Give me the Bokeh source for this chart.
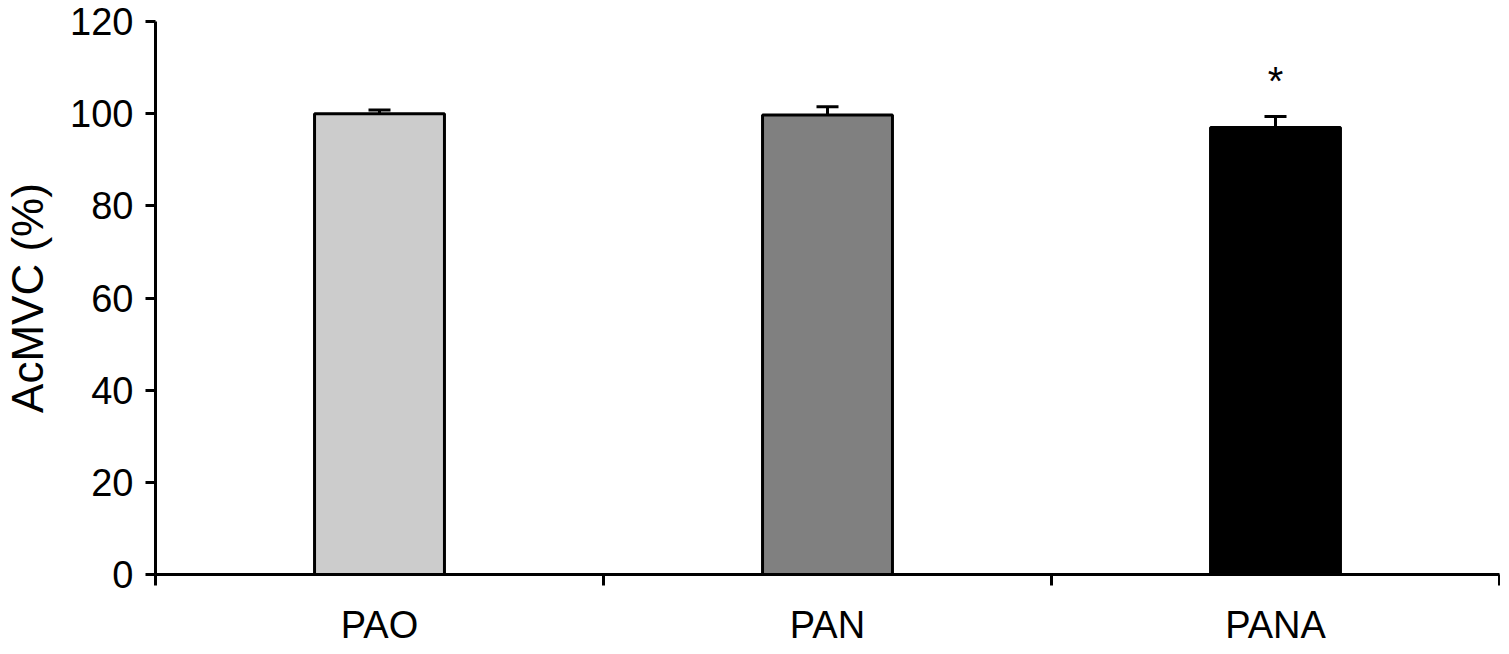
from bokeh.plotting import figure
from bokeh.models import ColumnDataSource, FixedTicker, Range1d, Whisker, Label, TeeHead
from bokeh.embed import file_html
from bokeh.resources import INLINE

categories = ["PAO", "PAN", "PANA"]
values = [100.0, 99.7, 97.0]
errors = [0.8, 1.8, 2.4]
colors = ["#cccccc", "#808080", "#000000"]
y_ticks = [0, 20, 40, 60, 80, 100, 120]
sig_marks = ["", "", "*"]
sig_y = [None, None, 107.0]

FONT = "Liberation Sans"

xc = [i + 0.5 for i in range(len(categories))]
upper = [v + e for v, e in zip(values, errors)]

p = figure(width=1500, height=648, output_backend="svg", toolbar_location=None,
           x_range=Range1d(0, len(categories)), y_range=Range1d(0, 120),
           min_border_left=149, min_border_right=1, min_border_top=21, min_border_bottom=60)
p.outline_line_color = None
p.grid.grid_line_color = None

src = ColumnDataSource(dict(x=xc, top=values, upper=upper, color=colors))
p.vbar(x="x", top="top", bottom=0, width=0.29, source=src, fill_color="color",
       line_color="black", line_width=3)
w = Whisker(base="x", lower="top", upper="upper", source=src, dimension="height",
            line_color="black", line_width=3, lower_head=None,
            upper_head=TeeHead(size=22, line_color="black", line_width=3))
p.add_layout(w)

for x, m, yy in zip(xc, sig_marks, sig_y):
    if m:
        p.add_layout(Label(x=x, y=yy, text=m, text_align="center", text_baseline="middle",
                           text_font=FONT, text_font_size="40px", text_color="black"))

xa = p.xaxis[0]
xa.ticker = FixedTicker(ticks=xc, minor_ticks=list(range(len(categories) + 1)))
xa.major_label_overrides = {x: c for x, c in zip(xc, categories)}
xa.major_tick_out = 0
xa.major_tick_in = 0
xa.minor_tick_out = 11
xa.minor_tick_in = 0
xa.minor_tick_line_width = 3
xa.minor_tick_line_color = "black"
xa.axis_line_width = 3
xa.axis_line_color = "black"
xa.major_label_text_font = FONT
xa.major_label_text_font_size = "38px"
xa.major_label_text_color = "black"
xa.major_label_standoff = 18

ya = p.yaxis[0]
ya.ticker = FixedTicker(ticks=y_ticks)
ya.minor_tick_line_color = None
ya.major_tick_out = 10
ya.major_tick_in = 0
ya.major_tick_line_width = 3
ya.axis_line_width = 3
ya.axis_line_color = "black"
ya.major_label_text_font = FONT
ya.major_label_text_font_size = "38px"
ya.major_label_text_color = "black"
ya.major_label_standoff = 12
ya.axis_label = "AcMVC (%)"
ya.axis_label_text_font = FONT
ya.axis_label_text_font_size = "44px"
ya.axis_label_text_font_style = "normal"
ya.axis_label_text_color = "black"
ya.axis_label_standoff = 15

open("out.html", "w").write(file_html(p, INLINE))
